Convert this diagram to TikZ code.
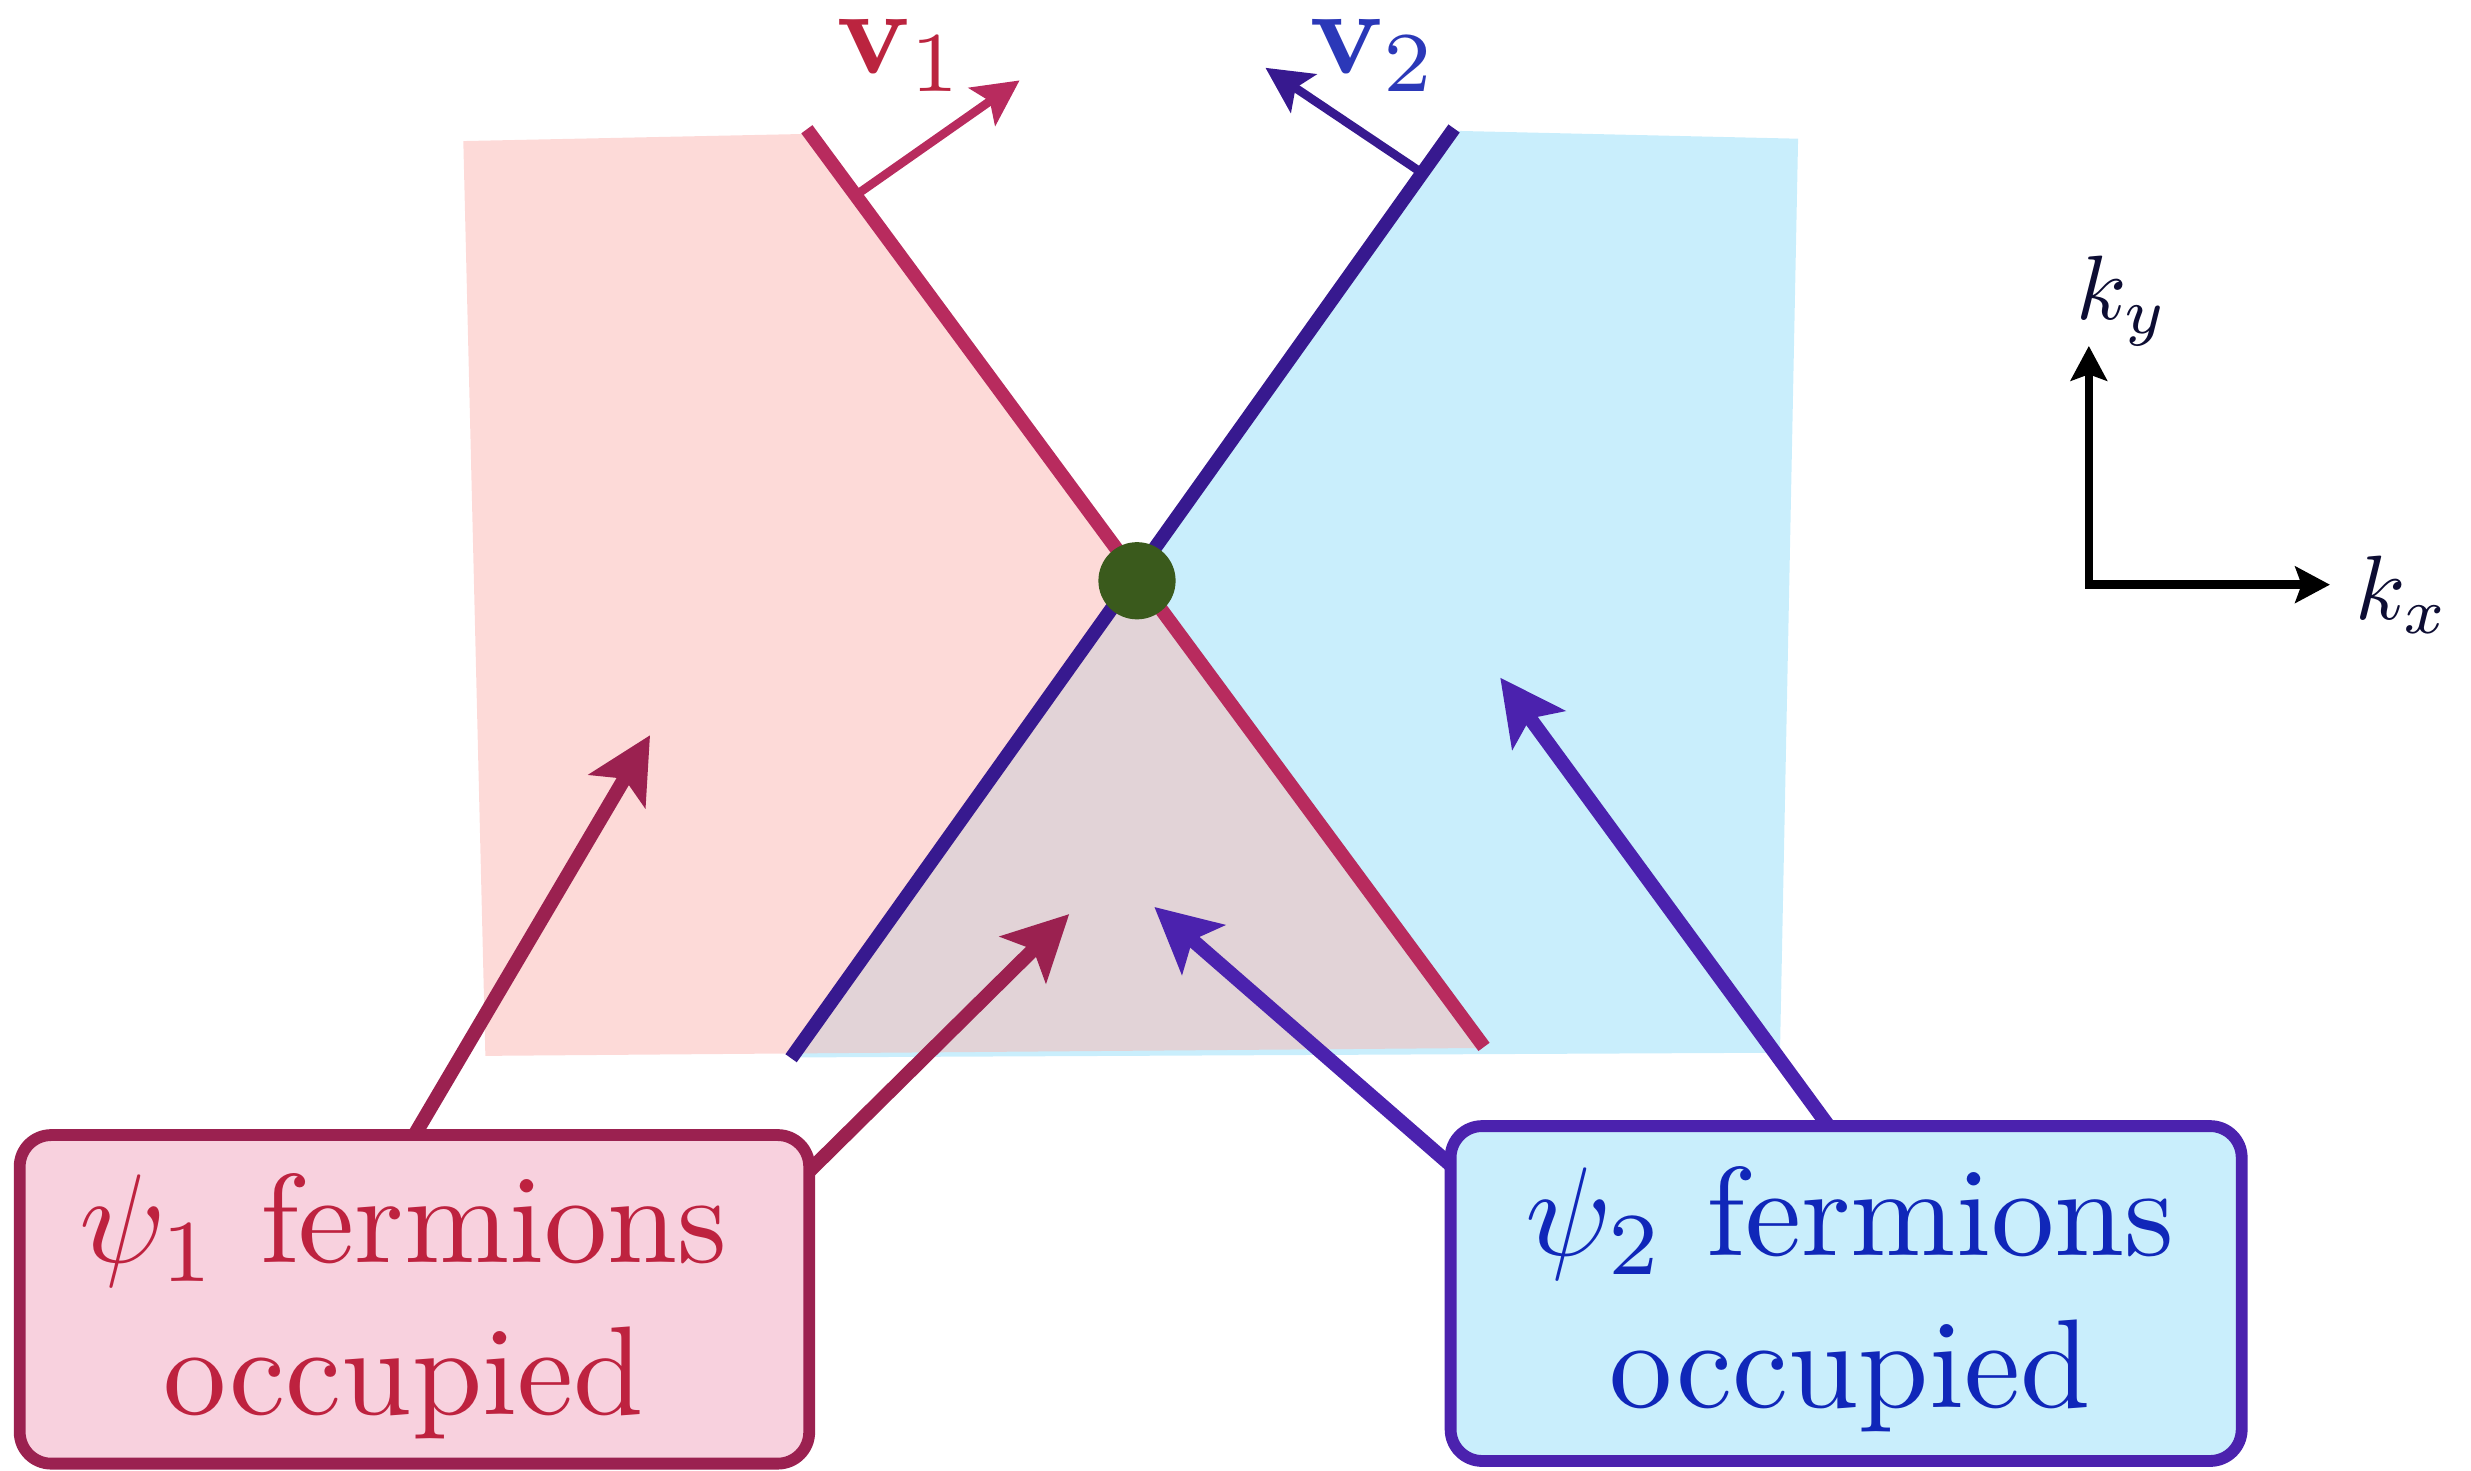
\documentclass[tikz,border=0pt]{standalone}
\usetikzlibrary{arrows.meta,calc}
\usepackage{graphicx}
\definecolor{pinkfill}{HTML}{FDDAD8}
\definecolor{cyanfill}{HTML}{C9EEFC}
\definecolor{overlapfill}{HTML}{E2D3D7}
\definecolor{redline}{HTML}{B82B5E}
\definecolor{blueline}{HTML}{37198F}
\definecolor{dotgreen}{HTML}{3A5A1C}
\definecolor{vonecol}{HTML}{BB243F}
\definecolor{vtwocol}{HTML}{2B38B8}
\definecolor{boxoneborder}{HTML}{9B2150}
\definecolor{boxonefill}{HTML}{F8D1DE}
\definecolor{boxonetext}{HTML}{BE223F}
\definecolor{boxtwoborder}{HTML}{4B22AE}
\definecolor{boxtwofill}{HTML}{C9EEFC}
\definecolor{boxtwotext}{HTML}{1027B9}
\definecolor{axislab}{HTML}{0D0D33}
\newcommand{\bigtext}[1]{\scalebox{2.28}{\begin{tabular}{@{}c@{}}#1\end{tabular}}}
\tikzset{
  fermiline/.style={line width=0.88mm},
  varrow/.style={line width=0.55mm, -{Stealth[length=2.9mm,width=2.9mm,inset=0.6mm]}},
  ptrarrow/.style={line width=0.9mm, -{Stealth[length=4.1mm,width=4.1mm,inset=0.9mm]}},
  axisarrow/.style={black, line width=0.55mm, -{Stealth[length=2.2mm,width=2.3mm,inset=0.4mm]}},
  infobox/.style={line width=0.75mm, rounded corners=2mm, inner sep=0pt, outer sep=0pt},
  boxtext/.style={inner sep=0pt, align=center},
  vlabel/.style={anchor=base west, inner sep=0pt},
  klabel/.style={anchor=base west, inner sep=0pt, text=axislab}
}
\begin{document}
\begin{tikzpicture}[x=0.1mm,y=-0.1mm]
\useasboundingbox (0,0) rectangle (1568,933);
% regions
\coordinate (pTL) at (294,89.5);
\coordinate (pTR) at (510,85);
\coordinate (pBR) at (938.5,665);
\coordinate (pBL) at (308,670);
\coordinate (cTL) at (923,83);
\coordinate (cTR) at (1141,88);
\coordinate (cBR) at (1129.5,668);
\coordinate (cBL) at (503,671);
\fill[pinkfill] (pTL) -- (pTR) -- (pBR) -- (pBL) -- cycle;
\fill[cyanfill] (cTL) -- (cTR) -- (cBR) -- (cBL) -- cycle;
\begin{scope}
  \clip (pTL) -- (pTR) -- (pBR) -- (pBL) -- cycle;
  \fill[overlapfill] (cTL) -- (cTR) -- (cBR) -- (cBL) -- cycle;
\end{scope}
% Fermi lines
\coordinate (r1) at (512,82);
\coordinate (r2) at (941.7,664.3);
\coordinate (b1) at (922.7,81.5);
\coordinate (b2) at (502,671.5);
\draw[fermiline, blueline] (b1) -- (b2);
\draw[fermiline, redline] (r1) -- (r2);
% velocity arrows
\coordinate (v1s) at ($(r1)!0.072!(r2)$);
\coordinate (v1t) at (647,51);
\coordinate (v2s) at ($(b1)!0.048!(b2)$);
\coordinate (v2t) at (803,43);
\draw[varrow, redline] (v1s) -- (v1t);
\draw[varrow, blueline] (v2s) -- (v2t);
\node[vlabel, text=vonecol] (v1lab) at (530,46.6) {\scalebox{2.2}{$\mathbf{v}_1$}};
\node[vlabel, text=vtwocol] (v2lab) at (830.5,46.6) {\scalebox{2.2}{$\mathbf{v}_2$}};
% Dirac point
\node[circle, fill=dotgreen, minimum size=4.9mm, inner sep=0pt] (dot) at (721.5,368.5) {};
% axes
\coordinate (O) at (1325.5,371);
\coordinate (kyt) at (1325.5,219.5);
\coordinate (kxt) at (1478.5,371);
\draw[axisarrow, line cap=rect] (O) -- (kyt);
\draw[axisarrow, line cap=rect] (O) -- (kxt);
\node[klabel] (kylab) at (1317,203) {\scalebox{1.65}{$k_y$}};
\node[klabel] (kxlab) at (1494,393) {\scalebox{1.65}{$k_x$}};
% boxes
\node[infobox, draw=boxoneborder, fill=boxonefill,
  minimum width=50.1mm, minimum height=20.85mm] (box1) at (263,824.5) {};
\node[infobox, draw=boxtwoborder, fill=boxtwofill,
  minimum width=50.2mm, minimum height=21.25mm] (box2) at (1171.5,820.8) {};
\node[boxtext, text=boxonetext] (box1text) at (256,830) {\bigtext{$\psi_1$ fermions\\occupied}};
\node[boxtext, text=boxtwotext] (box2text) at (1174,825.5) {\bigtext{$\psi_2$ fermions\\occupied}};
% pointer arrows
\coordinate (t1) at (412.5,466.5);
\coordinate (t2) at (678.5,580);
\coordinate (t3) at (732.5,575.5);
\coordinate (t4) at (952,430);
\draw[ptrarrow, boxoneborder] (box1.north) -- (t1);
\draw[ptrarrow, boxoneborder] (box1.18) -- (t2);
\draw[ptrarrow, boxtwoborder] (box2.162) -- (t3);
\draw[ptrarrow, boxtwoborder] (box2.96) -- (t4);
\end{tikzpicture}
\end{document}
